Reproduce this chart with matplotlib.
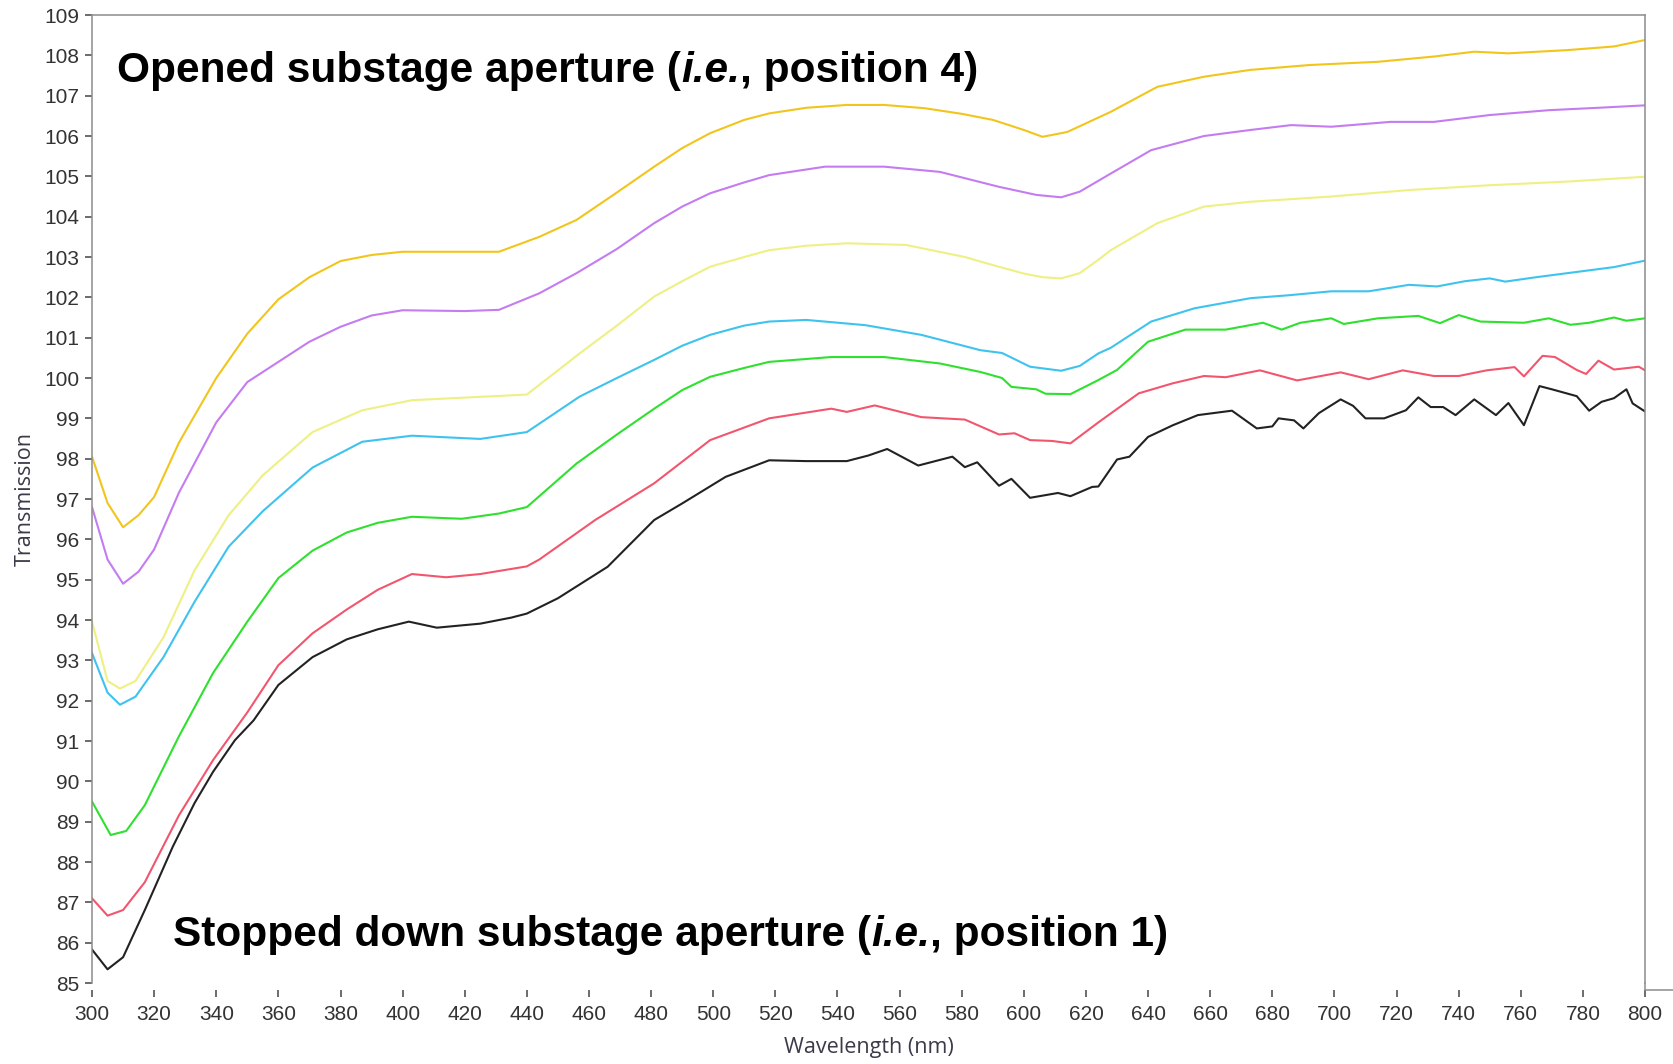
import matplotlib
matplotlib.use("Agg")
import matplotlib.pyplot as plt

# transmission spectra, one per substage aperture setting (wavelength in nm, T)
wl_gold = [300, 305, 310, 315, 320, 328, 340, 350, 360, 370, 380, 390, 400, 420, 431, 444, 456, 469, 481, 490,
           499, 510, 518, 530, 543, 555, 568, 580, 590, 600, 606, 614, 628, 643, 658, 673, 692, 714, 732, 745,
           756, 775, 790, 800]
t_gold = [98.05, 96.9, 96.3, 96.6, 97.05, 98.4, 100.0, 101.1, 101.95, 102.5, 102.9, 103.05, 103.13, 103.13, 103.13,
          103.5, 103.92, 104.6, 105.24, 105.7, 106.07, 106.4, 106.56, 106.7, 106.77, 106.77, 106.69, 106.55, 106.4,
          106.15, 105.98, 106.1, 106.6, 107.22, 107.47, 107.64, 107.76, 107.84, 107.97, 108.09, 108.05, 108.13,
          108.22, 108.38]

wl_violet = [300, 305, 310, 315, 320, 328, 340, 350, 360, 370, 380, 390, 400, 420, 431, 444, 456, 469, 481, 490,
             499, 510, 518, 536, 555, 573, 592, 604, 612, 618, 628, 641, 658, 673, 686, 699, 718, 732, 750, 769,
             785, 800]
t_violet = [96.8, 95.5, 94.9, 95.2, 95.75, 97.16, 98.9, 99.9, 100.4, 100.9, 101.27, 101.55, 101.68, 101.66, 101.69,
            102.1, 102.6, 103.2, 103.84, 104.25, 104.58, 104.85, 105.03, 105.24, 105.24, 105.11, 104.74, 104.54,
            104.48, 104.62, 105.07, 105.65, 106.0, 106.15, 106.27, 106.23, 106.35, 106.35, 106.52, 106.64, 106.7,
            106.76]

wl_yellow = [300, 305, 309, 314, 323, 333, 344, 355, 371, 387, 403, 440, 457, 469, 481, 490, 499, 510, 518, 530,
             543, 562, 581, 590, 600, 606, 612, 618, 624, 628, 643, 658, 673, 699, 724, 750, 775, 800]
t_yellow = [93.96, 92.49, 92.3, 92.49, 93.57, 95.23, 96.6, 97.59, 98.66, 99.2, 99.45, 99.59, 100.61, 101.3, 102.02,
            102.4, 102.76, 103.0, 103.17, 103.28, 103.34, 103.3, 103.0, 102.8, 102.59, 102.5, 102.47, 102.6,
            102.93, 103.17, 103.84, 104.25, 104.37, 104.5, 104.66, 104.78, 104.87, 104.99]

wl_cyan = [300, 305, 309, 314, 323, 333, 344, 355, 371, 387, 403, 425, 440, 457, 469, 481, 490, 499, 510, 518,
           530, 549, 567, 586, 593, 602, 612, 618, 624, 628, 641, 655, 673, 685, 699, 711, 724, 733, 742, 750,
           755, 765, 775, 790, 800]
t_cyan = [93.18, 92.2, 91.9, 92.1, 93.08, 94.45, 95.82, 96.7, 97.78, 98.42, 98.57, 98.49, 98.66, 99.54, 100.0,
          100.45, 100.8, 101.07, 101.3, 101.4, 101.44, 101.31, 101.07, 100.69, 100.62, 100.28, 100.18, 100.3,
          100.61, 100.75, 101.4, 101.73, 101.98, 102.05, 102.15, 102.15, 102.31, 102.27, 102.4, 102.47, 102.39,
          102.5, 102.6, 102.75, 102.91]

wl_green = [300, 306, 311, 317, 328, 339, 350, 360, 371, 382, 392, 403, 419, 431, 440, 456, 469, 481, 490, 499,
            510, 518, 538, 555, 573, 586, 593, 596, 604, 607, 615, 624, 630, 640, 652, 665, 677, 683, 689, 699,
            703, 714, 727, 734, 740, 747, 761, 769, 776, 782, 790, 794, 800]
t_green = [89.5, 88.67, 88.77, 89.41, 91.12, 92.69, 93.96, 95.04, 95.72, 96.17, 96.41, 96.56, 96.51, 96.64, 96.8,
           97.88, 98.6, 99.24, 99.7, 100.03, 100.25, 100.4, 100.52, 100.52, 100.36, 100.15, 100.0, 99.78, 99.72,
           99.61, 99.6, 99.95, 100.2, 100.9, 101.2, 101.2, 101.37, 101.2, 101.37, 101.48, 101.34, 101.48, 101.54,
           101.36, 101.56, 101.4, 101.37, 101.48, 101.32, 101.37, 101.5, 101.42, 101.48]

wl_red = [300, 305, 310, 317, 328, 339, 350, 360, 371, 382, 392, 403, 414, 425, 440, 444, 462, 481, 499, 518,
          538, 543, 552, 567, 581, 592, 597, 602, 609, 615, 624, 637, 648, 658, 665, 676, 688, 702, 711, 722,
          732, 740, 749, 758, 761, 767, 771, 778, 781, 785, 790, 798, 800]
t_red = [87.1, 86.67, 86.81, 87.5, 89.16, 90.53, 91.71, 92.88, 93.67, 94.26, 94.75, 95.14, 95.06, 95.14, 95.33,
         95.5, 96.48, 97.39, 98.46, 99.0, 99.24, 99.16, 99.32, 99.03, 98.97, 98.6, 98.63, 98.46, 98.44, 98.38,
         98.9, 99.62, 99.87, 100.05, 100.02, 100.19, 99.94, 100.14, 99.97, 100.19, 100.05, 100.05, 100.19, 100.27,
         100.04, 100.55, 100.52, 100.2, 100.1, 100.43, 100.21, 100.28, 100.19]

wl_black = [300, 305, 310, 317, 326, 333, 339, 346, 352, 360, 371, 382, 392, 402, 411, 425, 435, 440, 450, 466,
            481, 490, 504, 518, 530, 543, 550, 556, 566, 577, 581, 585, 592, 596, 602, 611, 615, 622, 624, 630,
            634, 640, 648, 656, 667, 675, 680, 682, 687, 690, 695, 702, 706, 710, 716, 723, 727, 731, 735, 739,
            745, 752, 756, 761, 766, 770, 778, 782, 786, 790, 794, 796, 800]
t_black = [85.83, 85.34, 85.64, 86.81, 88.38, 89.46, 90.24, 91.02, 91.51, 92.39, 93.08, 93.52, 93.77, 93.96, 93.81,
           93.91, 94.06, 94.16, 94.54, 95.32, 96.48, 96.89, 97.55, 97.96, 97.94, 97.94, 98.08, 98.24, 97.83, 98.05,
           97.79, 97.91, 97.33, 97.5, 97.03, 97.15, 97.07, 97.3, 97.31, 97.98, 98.05, 98.54, 98.83, 99.08, 99.19,
           98.75, 98.8, 99.0, 98.95, 98.75, 99.13, 99.47, 99.31, 99.0, 99.0, 99.2, 99.52, 99.28, 99.28, 99.08,
           99.47, 99.08, 99.38, 98.83, 99.8, 99.72, 99.55, 99.19, 99.41, 99.5, 99.72, 99.37, 99.17]

x_ticks = list(range(300, 801, 20))
y_ticks = list(range(85, 110))

tick_font = ['Liberation Sans Narrow', 'Liberation Sans', 'DejaVu Sans']
label_font = ['Open Sans', 'DejaVu Sans']
note_font = ['Liberation Sans', 'DejaVu Sans']

fig = plt.figure(figsize=(16.73, 10.64), dpi=100)
ax = fig.add_axes([0.0550, 0.0761, 0.9283, 0.9098])

series = [
    (wl_gold, t_gold, '#f2c51c'),
    (wl_violet, t_violet, '#c47cf0'),
    (wl_yellow, t_yellow, '#eef084'),
    (wl_cyan, t_cyan, '#3ec3ee'),
    (wl_green, t_green, '#2fe02f'),
    (wl_red, t_red, '#f2566e'),
    (wl_black, t_black, '#222222'),
]
for wl, t, c in series:
    ax.plot(wl, t, color=c, lw=1.5, solid_joinstyle='round')

ax.set_xlim(300, 800)
ax.set_ylim(85, 109)
ax.set_xticks(x_ticks)
ax.set_yticks(y_ticks)

spine_col = '#8c8c8c'
for side in ['left', 'top', 'right']:
    ax.spines[side].set_color(spine_col)
    ax.spines[side].set_linewidth(1.1)
ax.spines['bottom'].set_position(('outward', 5))
ax.spines['bottom'].set_visible(False)
# frame runs on a little past the lower right corner
ax.plot([1, 1, 1.02], [0, -0.0072, -0.0072], transform=ax.transAxes, clip_on=False,
        color=spine_col, lw=1.1)

ax.tick_params(axis='both', direction='out', length=5, width=1.1, color='#444444',
               labelcolor='#333333', labelsize=15)
ax.tick_params(axis='y', pad=4)
ax.tick_params(axis='x', pad=6)
for lab in ax.get_xticklabels() + ax.get_yticklabels():
    lab.set_family(tick_font)

ax.set_xlabel('Wavelength (nm)', family=label_font, fontsize=15.5, color='#3a3a4a', labelpad=9)
ax.set_ylabel('Transmission', family=label_font, fontsize=15.5, color='#3a3a4a', labelpad=6)


def mixed_line(x, y, parts):
    # write bold text pieces one after another on a shared baseline
    renderer = fig.canvas.get_renderer()
    for s, style in parts:
        t = ax.text(x, y, s, transform=ax.transAxes, family=note_font, fontsize=30.5,
                    fontweight='bold', style=style, va='baseline', ha='left', color='black')
        bb = t.get_window_extent(renderer)
        x = ax.transAxes.inverted().transform((bb.x1, bb.y0))[0]


mixed_line(0.0161, 0.931, [('Opened substage aperture (', 'normal'), ('i.e.', 'italic'),
                           (', position 4)', 'normal')])
mixed_line(0.0522, 0.0385, [('Stopped down substage aperture (', 'normal'), ('i.e.', 'italic'),
                            (', position 1)', 'normal')])

fig.savefig('out.png', dpi=100, facecolor='white')
